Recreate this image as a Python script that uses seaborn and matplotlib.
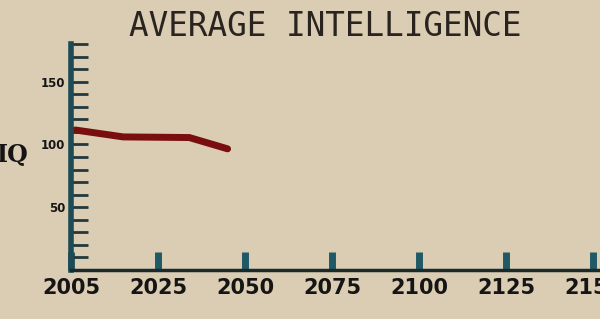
import numpy as np
import pandas as pd
import seaborn as sns
import matplotlib.pyplot as plt

# data
TICK_YEARS = [2005, 2025, 2050, 2075, 2100, 2125, 2150]
YEARS = [2006, 2017, 2034, 2045]
IQ = [111.5, 106.0, 105.5, 96.5]
Y_LABELED = [50, 100, 150]

# colors
BG = "#dacdb3"
LINE = "#7a0d0d"
SPINE = "#1d4a55"
TICKC = "#1f5a66"
INK = "#151515"

sns.set_theme(style="ticks")
plt.rcParams["font.family"] = ["DejaVu Sans"]

fig = plt.figure(figsize=(6, 3.19), dpi=100, facecolor=BG)
ax = fig.add_axes([71 / 600, 49 / 319, 529 / 600, 226 / 319], facecolor=BG)

# tick labels sit at evenly spaced slots, map years onto them
slots = np.interp(YEARS, TICK_YEARS, np.arange(len(TICK_YEARS)))
df = pd.DataFrame({"slot": slots, "iq": IQ})
sns.lineplot(data=df, x="slot", y="iq", color=LINE, linewidth=5,
             solid_capstyle="round", solid_joinstyle="round", ax=ax)

ax.set_xlim(0, 529 / 87)
ax.set_ylim(0, 180)
ax.set_xlabel("")
ax.set_ylabel("")

ax.set_xticks(np.arange(len(TICK_YEARS)))
ax.set_xticklabels([str(y) for y in TICK_YEARS], fontsize=15, fontweight="bold", color=INK)
ax.tick_params(axis="x", direction="in", length=13, width=5, color=TICKC, pad=6)

yt = list(range(10, 181, 10))
ax.set_yticks(yt)
ax.set_yticklabels([str(v) if v in Y_LABELED else "" for v in yt],
                   fontsize=8.5, fontweight="bold", color=INK)
ax.tick_params(axis="y", direction="in", length=12, width=2, color="#22383c", pad=4)

for s in ["top", "right"]:
    ax.spines[s].set_visible(False)
ax.spines["left"].set_linewidth(4)
ax.spines["left"].set_color(SPINE)
ax.spines["bottom"].set_linewidth(2.5)
ax.spines["bottom"].set_color("#1a2a2c")

fig.text(0.542, 1 - 26 / 319, "AVERAGE INTELLIGENCE", ha="center", va="center",
         fontsize=23.5, family="DejaVu Sans Mono", color="#2a2420")
fig.text(-0.005, 1 - 155 / 319, "IQ", ha="left", va="center",
         fontsize=17, fontweight="bold", family="DejaVu Serif", color=INK)

plt.savefig("out.png", dpi=100, facecolor=BG)
